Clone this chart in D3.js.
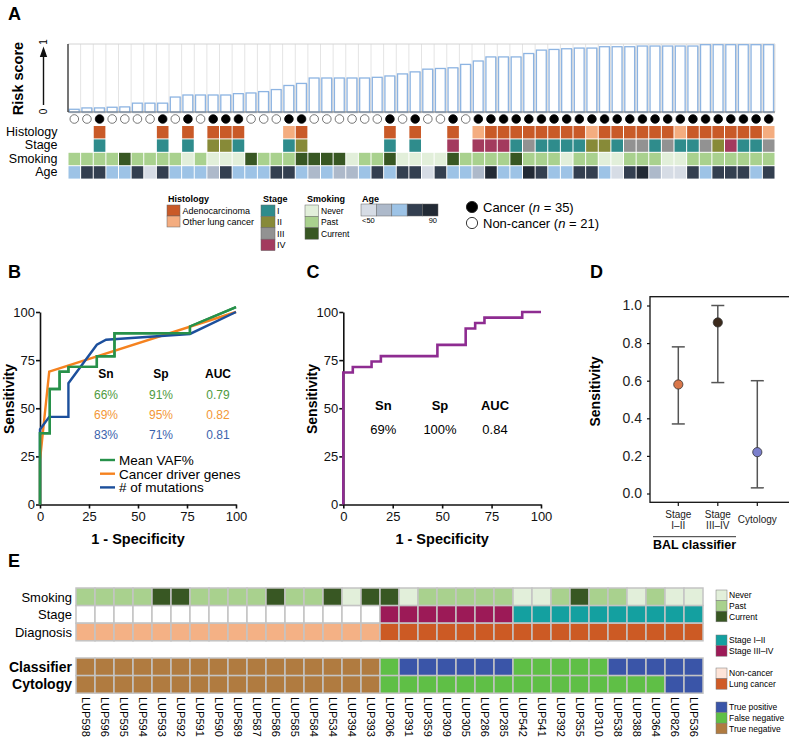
<!DOCTYPE html>
<html>
<head>
<meta charset="utf-8">
<script src="https://cdn.jsdelivr.net/npm/d3@7"></script>
<style>
  body { margin: 0; background: #fff; }
  svg { font-family: 'Liberation Sans', Arial, sans-serif; }
</style>
</head>
<body>
<script>
// ---------- panel A: risk score per subject, sorted ----------
const riskScore = [0.04, 0.06, 0.06, 0.07, 0.075, 0.13, 0.13, 0.13, 0.22, 0.25,
  0.25, 0.25, 0.25, 0.27, 0.28, 0.30, 0.33, 0.39, 0.42, 0.50,
  0.50, 0.50, 0.50, 0.50, 0.51, 0.53, 0.56, 0.59, 0.63, 0.64,
  0.65, 0.70, 0.75, 0.81, 0.81, 0.81, 0.86, 0.91, 0.92, 0.93,
  0.94, 0.94, 0.96, 0.96, 0.96, 0.97, 0.97, 0.97, 0.97, 0.97,
  0.99, 0.99, 0.99, 0.99, 0.99, 0.99]
// A = adenocarcinoma, O = other lung cancer, - = non-cancer
const histology = ['-','-','A','-','-','-','-','A','-','A',
  '-','A','A','A','-','-','-','O','A','-',
  '-','-','-','-','-','A','-','A','-','-',
  'A','-','O','A','A','A','A','A','A','A',
  'A','O','A','A','A','A','A','A','O','A',
  'A','A','A','A','A','O']
const stage = ['-','-','1','-','-','-','-','1','-','1',
  '-','2','2','1','-','-','-','1','2','-',
  '-','-','-','-','-','1','-','1','-','-',
  '4','-','4','4','4','1','3','1','1','1',
  '1','2','2','1','3','3','1','3','1','1',
  '3','2','4','1','1','3']
// N = never, P = past, C = current
const smoking = ['P','P','P','P','C','P','P','P','P','N',
  'P','N','N','N','C','P','P','P','C','C',
  'C','C','N','P','P','C','N','N','N','N',
  'C','P','P','P','P','C','P','P','P','N',
  'P','P','N','N','P','P','P','N','N','P',
  'P','P','P','P','P','P']
// age bin 1 (<50) .. 5 (90)
const ageBin = [3,4,4,3,3,4,1,4,3,3,
  3,2,4,3,3,3,4,4,3,2,
  3,2,2,3,4,3,4,4,1,4,
  3,3,2,5,3,3,5,4,3,3,
  4,4,3,1,4,5,2,1,1,4,
  3,4,4,4,3,4]

// ---------- panel B / C: ROC curves (1-specificity, sensitivity) ----------
const rocVaf = [[0,0],[0,37],[5,37],[5,60],[10,60],[10,69],[14.5,69],[14.5,71.5],[29,71.5],[29,77],[38,77],[38,89],[76.5,89],[76.5,92.5],[100,102.5]]
const rocDriver = [[0,0],[0,23],[4.7,69],[100,100]]
const rocMutations = [[0,0],[0,39],[4.7,45.5],[14.5,45.5],[14.5,63],[29,83],[33.7,85.6],[76.5,88.6],[100,100]]
const rocNames = ['Mean VAF%', 'Cancer driver genes', '# of mutations']
const snB = ['66%', '69%', '83%']
const spB = ['91%', '95%', '71%']
const aucB = ['0.79', '0.82', '0.81']

const rocClassifier = [[0,0],[0,68.6],[4.8,68.6],[4.8,71.4],[14.3,71.4],[14.3,74.3],[19,74.3],[19,77.1],[47.6,77.1],[47.6,82.9],[61.9,82.9],[61.9,91.4],[66.7,91.4],[66.7,94.3],[71.4,94.3],[71.4,97.1],[90.5,97.1],[90.5,100],[100,100]]
const statC = ['69%', '100%', '0.84']
const rocTicks = [0, 25, 50, 75, 100]

// ---------- panel D ----------
const dGroups = ['Stage I–II', 'Stage III–IV', 'Cytology']
const dSens = [0.58, 0.91, 0.22]
const dLow = [0.37, 0.59, 0.03]
const dHigh = [0.78, 1.0, 0.60]

// ---------- panel E ----------
const eSamples = ['LUP598','LUP596','LUP595','LUP594','LUP593','LUP592','LUP591','LUP590','LUP589','LUP587','LUP586','LUP585','LUP584','LUP534','LUP394','LUP393',
  'LUP306','LUP391','LUP359','LUP309','LUP305','LUP286','LUP285',
  'LUP542','LUP541','LUP392','LUP355','LUP310','LUP538','LUP388','LUP364','LUP826','LUP536']
const eSmoking = ['P','P','P','P','C','C','P','P','P','P','C','P','P','C','N','C',
  'C','N','P','P','P','P','P','N','N','P','C','P','P','N','P','N','N']
// L = stage I-II, H = stage III-IV
const eStage = ['-','-','-','-','-','-','-','-','-','-','-','-','-','-','-','-',
  'H','H','H','H','H','H','H','L','L','L','L','L','L','L','L','L','L']
// N = non-cancer, C = lung cancer
const eDiagnosis = ['N','N','N','N','N','N','N','N','N','N','N','N','N','N','N','N',
  'C','C','C','C','C','C','C','C','C','C','C','C','C','C','C','C','C']
// TP / FN / TN
const eClassifier = ['TN','TN','TN','TN','TN','TN','TN','TN','TN','TN','TN','TN','TN','TN','TN','TN',
  'FN','TP','TP','TP','TP','TP','TP','FN','FN','FN','FN','FN','TP','TP','TP','TP','TP']
const eCytology = ['TN','TN','TN','TN','TN','TN','TN','TN','TN','TN','TN','TN','TN','TN','TN','TN',
  'FN','FN','FN','FN','FN','FN','FN','FN','FN','FN','FN','FN','FN','FN','FN','TP','TP']

// ---------- colours ----------
const histColor = { A: '#c95a28', O: '#f4ad80' }
const stageColor = { 1: '#2f8c8c', 2: '#878a38', 3: '#929292', 4: '#a33a5e' }
const smokeColor = { N: '#e2efda', P: '#a9d18e', C: '#385723' }
const ageColor = ['#d6dce5', '#adb9ca', '#9dc3e6', '#333f50', '#222a35']
const eStageColor = { L: '#14a0a0', H: '#9c1a57' }
const eDiagColor = { N: '#f4b185', C: '#cc5a24' }
const outcomeColor = { TP: '#3a55a8', FN: '#5fbf46', TN: '#b07b40' }
const rocColors = ['#27914a', '#f5821f', '#1c4f9c']
const statColors = ['#4f9a3e', '#f39737', '#3c63ad']
const dColors = ['#d9774a', '#3c2a1c', '#7b7fcc']

const svg = d3.select('body').append('svg')
  .attr('width', 789)
  .attr('height', 739)

const panelLabel = (x, y, t) => svg.append('text')
  .attr('x', x).attr('y', y)
  .attr('font-size', 18).attr('font-weight', 'bold')
  .text(t)

// =======================================================================================
// A
panelLabel(8, 20, 'A')

const xA = d3.scaleBand().domain(d3.range(riskScore.length)).range([68, 775])
const yA = d3.scaleLinear().domain([0, 1]).range([112, 44])
const bw = xA.bandwidth()

const gA = svg.append('g')
gA.selectAll('line.sep')
  .data(d3.range(riskScore.length + 1))
  .join('line')
  .attr('x1', i => 68 + i * bw).attr('x2', i => 68 + i * bw)
  .attr('y1', 44).attr('y2', 112)
  .attr('stroke', '#e4e4e4')
gA.append('line').attr('x1', 68).attr('x2', 775).attr('y1', 44).attr('y2', 44).attr('stroke', '#d4d4d4')

gA.selectAll('rect.shadow')
  .data(riskScore)
  .join('rect')
  .attr('x', (d, i) => xA(i) + 2.2)
  .attr('y', d => yA(d) + 0.8)
  .attr('width', bw - 2.8)
  .attr('height', d => 112 - yA(d))
  .attr('fill', 'none')
  .attr('stroke', '#dcdcdc')
  .attr('stroke-width', 1.2)
gA.selectAll('rect.bar')
  .data(riskScore)
  .join('rect')
  .attr('x', (d, i) => xA(i) + 1.3)
  .attr('y', d => yA(d))
  .attr('width', bw - 2.8)
  .attr('height', d => 112 - yA(d))
  .attr('fill', '#fff')
  .attr('stroke', '#8db4e2')
  .attr('stroke-width', 1.3)

gA.append('line').attr('x1', 68).attr('x2', 775).attr('y1', 112).attr('y2', 112).attr('stroke', '#777').attr('stroke-width', 1.2)
gA.append('line').attr('x1', 68).attr('x2', 68).attr('y1', 44).attr('y2', 112).attr('stroke', '#222').attr('stroke-width', 1.2)

// risk score axis label + arrow
svg.append('text')
  .attr('transform', 'translate(22.5,78.5) rotate(-90)')
  .attr('text-anchor', 'middle')
  .attr('font-size', 14.5).attr('font-weight', 'bold')
  .text('Risk score')
svg.append('line').attr('x1', 43.5).attr('x2', 43.5).attr('y1', 105).attr('y2', 55).attr('stroke', '#111').attr('stroke-width', 1.4)
svg.append('path').attr('d', 'M43.5,46.5 L39.8,57 L47.2,57 Z').attr('fill', '#111')
svg.append('text').attr('transform', 'translate(47,111.5) rotate(-90)').attr('text-anchor', 'middle').attr('font-size', 10).text('0')
svg.append('text').attr('transform', 'translate(47,42) rotate(-90)').attr('text-anchor', 'middle').attr('font-size', 10).text('1')

// cancer / non-cancer circles
gA.selectAll('circle')
  .data(histology)
  .join('circle')
  .attr('cx', (d, i) => xA(i) + bw / 2)
  .attr('cy', 119)
  .attr('r', 4.3)
  .attr('fill', d => d === '-' ? '#fff' : '#000')
  .attr('stroke', d => d === '-' ? '#555' : '#000')
  .attr('stroke-width', 0.8)

const rowsA = [
  { label: 'Histology', y: 126, data: histology, color: d => histColor[d] },
  { label: 'Stage', y: 139.4, data: stage, color: d => stageColor[d] },
  { label: 'Smoking', y: 152.8, data: smoking, color: d => smokeColor[d] },
  { label: 'Age', y: 166.2, data: ageBin, color: d => ageColor[d - 1] },
]
rowsA.forEach(row => {
  gA.append('g').selectAll('rect')
    .data(row.data)
    .join('rect')
    .attr('x', (d, i) => xA(i) + 0.5)
    .attr('y', row.y)
    .attr('width', bw - 1)
    .attr('height', 12.4)
    .attr('fill', d => row.color(d) || '#fff')
  svg.append('text')
    .attr('x', 57.5).attr('y', row.y + 10)
    .attr('text-anchor', 'end')
    .attr('font-size', 12.5)
    .text(row.label)
})

// legend A
const legA = svg.append('g').attr('font-size', 9)
const legBox = (x, y, w, h, c) => legA.append('rect').attr('x', x).attr('y', y).attr('width', w).attr('height', h)
  .attr('fill', c).attr('stroke', '#666').attr('stroke-width', 0.5)
const legTitle = (x, t) => legA.append('text').attr('x', x).attr('y', 201.5).attr('font-weight', 'bold').text(t)

legTitle(168, 'Histology')
;[['A', 'Adenocarcinoma'], ['O', 'Other lung cancer']].forEach(([k, t], i) => {
  legBox(167, 205 + i * 11, 13, 11, histColor[k])
  legA.append('text').attr('x', 182.5).attr('y', 213.5 + i * 11).text(t)
})
legTitle(263, 'Stage')
;[['1', 'I'], ['2', 'II'], ['3', 'III'], ['4', 'IV']].forEach(([k, t], i) => {
  legBox(261, 205 + i * 11.4, 14, 11.4, stageColor[k])
  legA.append('text').attr('x', 277).attr('y', 213.8 + i * 11.4).text(t)
})
legTitle(307, 'Smoking')
;[['N', 'Never'], ['P', 'Past'], ['C', 'Current']].forEach(([k, t], i) => {
  legBox(305, 205 + i * 11.4, 13.5, 11.4, smokeColor[k])
  legA.append('text').attr('x', 321).attr('y', 213.8 + i * 11.4).attr('font-size', 8.5).text(t)
})
legTitle(362, 'Age')
ageColor.forEach((c, i) => legBox(361 + i * 15.4, 204, 15.4, 12, c))
legA.append('text').attr('x', 362).attr('y', 222.5).attr('font-size', 7.5).text('<50')
legA.append('text').attr('x', 437).attr('y', 222.5).attr('font-size', 7.5).attr('text-anchor', 'end').text('90')

const statusLeg = [{ fill: '#000', y: 207, n: 35, t: 'Cancer' }, { fill: '#fff', y: 223, n: 21, t: 'Non-cancer' }]
statusLeg.forEach(s => {
  svg.append('circle').attr('cx', 472).attr('cy', s.y).attr('r', 5.6)
    .attr('fill', s.fill).attr('stroke', '#222').attr('stroke-width', 0.9)
  const t = svg.append('text').attr('x', 483).attr('y', s.y + 4.6).attr('font-size', 13)
  t.append('tspan').text(`${s.t} (`)
  t.append('tspan').attr('font-style', 'italic').text('n')
  t.append('tspan').text(` = ${s.n})`)
})

// =======================================================================================
// B and C: ROC panels
const makeRocAxes = (x0, x1, labelX) => {
  const x = d3.scaleLinear().domain([0, 100]).range([x0, x1])
  const y = d3.scaleLinear().domain([0, 100]).range([504.5, 312])
  const g = svg.append('g')
  g.append('g').attr('transform', 'translate(0,504.5)')
    .call(d3.axisBottom(x).tickValues(rocTicks).tickSize(4).tickSizeOuter(0).tickPadding(3))
  g.append('g').attr('transform', `translate(${x0},0)`)
    .call(d3.axisLeft(y).tickValues(rocTicks).tickSize(4).tickSizeOuter(0).tickPadding(1))
  g.selectAll('.domain, .tick line').attr('stroke', '#111').attr('stroke-width', 1.6)
  g.selectAll('.tick text').attr('font-size', 13).attr('fill', '#111').attr('font-family', 'Liberation Sans, Arial, sans-serif')
  svg.append('text').attr('x', (x0 + x1) / 2).attr('y', 543.5).attr('text-anchor', 'middle')
    .attr('font-size', 14.5).attr('font-weight', 'bold').text('1 - Specificity')
  svg.append('text').attr('transform', `translate(${labelX},399) rotate(-90)`).attr('text-anchor', 'middle')
    .attr('font-size', 14).attr('font-weight', 'bold').text('Sensitivity')
  return { x, y }
}

panelLabel(8, 278, 'B')
const B = makeRocAxes(40, 236, 13.5)
const lineB = d3.line().x(d => B.x(d[0])).y(d => B.y(d[1]))
;[rocVaf, rocDriver, rocMutations].forEach((r, i) => {
  svg.append('path').attr('d', lineB(r)).attr('fill', 'none')
    .attr('stroke', rocColors[i]).attr('stroke-width', 2.4).attr('stroke-linejoin', 'miter')
})
// re-draw the green on top like the original
svg.append('path').attr('d', lineB(rocVaf)).attr('fill', 'none').attr('stroke', rocColors[0]).attr('stroke-width', 2.4)

const colsB = [106, 161, 218]
;['Sn', 'Sp', 'AUC'].forEach((h, j) => svg.append('text').attr('x', colsB[j]).attr('y', 378)
  .attr('text-anchor', 'middle').attr('font-size', 12).attr('font-weight', 'bold').text(h))
;[snB, spB, aucB].forEach((col, j) => col.forEach((v, i) => svg.append('text')
  .attr('x', colsB[j]).attr('y', 399 + i * 20)
  .attr('text-anchor', 'middle').attr('font-size', 12).attr('fill', statColors[i]).text(v)))

rocNames.forEach((n, i) => {
  const y = 460 + i * 13.7
  svg.append('line').attr('x1', 100).attr('x2', 115).attr('y1', y).attr('y2', y)
    .attr('stroke', rocColors[i]).attr('stroke-width', 2.4)
  svg.append('text').attr('x', 119).attr('y', y + 4.8).attr('font-size', 13.5).text(n)
})

panelLabel(306.5, 278, 'C')
const C = makeRocAxes(343.3, 541, 317)
const lineC = d3.line().x(d => C.x(d[0])).y(d => C.y(d[1]))
svg.append('path').attr('d', lineC(rocClassifier)).attr('fill', 'none')
  .attr('stroke', '#8e2c91').attr('stroke-width', 2.6)
const colsC = [383.3, 440, 495]
;['Sn', 'Sp', 'AUC'].forEach((h, j) => svg.append('text').attr('x', colsC[j]).attr('y', 410)
  .attr('text-anchor', 'middle').attr('font-size', 13).attr('font-weight', 'bold').text(h))
statC.forEach((v, j) => svg.append('text').attr('x', colsC[j]).attr('y', 434.3)
  .attr('text-anchor', 'middle').attr('font-size', 13).text(v))

// =======================================================================================
// D
panelLabel(590, 278, 'D')
const xD = d3.scalePoint().domain(dGroups).range([678.3, 757.3])
const yD = d3.scaleLinear().domain([0, 1]).range([493.5, 305.5])
svg.append('rect').attr('x', 650).attr('y', 296.7).attr('width', 150).attr('height', 205.6)
  .attr('fill', 'none').attr('stroke', '#111').attr('stroke-width', 1.3)
const axD = svg.append('g').attr('transform', 'translate(650,0)')
  .call(d3.axisLeft(yD).tickValues([0, 0.2, 0.4, 0.6, 0.8, 1]).tickFormat(d3.format('.1f')).tickSize(3).tickPadding(5))
axD.select('.domain').remove()
axD.selectAll('.tick line').attr('stroke', '#111').attr('stroke-width', 1.2)
axD.selectAll('.tick text').attr('font-size', 14).attr('fill', '#222').attr('font-family', 'Liberation Sans, Arial, sans-serif')
svg.append('text').attr('transform', 'translate(600,391.5) rotate(-90)').attr('text-anchor', 'middle')
  .attr('font-size', 14).attr('font-weight', 'bold').text('Sensitivity')

dGroups.forEach((g, i) => {
  const cx = xD(g)
  svg.append('line').attr('x1', cx).attr('x2', cx).attr('y1', 502.3).attr('y2', 506).attr('stroke', '#111').attr('stroke-width', 1.2)
  svg.append('line').attr('x1', cx).attr('x2', cx).attr('y1', yD(dLow[i])).attr('y2', yD(dHigh[i]))
    .attr('stroke', '#555').attr('stroke-width', 1.5)
  ;[dLow[i], dHigh[i]].forEach(v => svg.append('line')
    .attr('x1', cx - 6.5).attr('x2', cx + 6.5).attr('y1', yD(v)).attr('y2', yD(v))
    .attr('stroke', '#555').attr('stroke-width', 1.5))
  svg.append('circle').attr('cx', cx).attr('cy', yD(dSens[i])).attr('r', 4.6)
    .attr('fill', dColors[i]).attr('stroke', '#333').attr('stroke-width', 0.8)
  const parts = g.split(' ')
  const t = svg.append('text').attr('text-anchor', 'middle').attr('font-size', 10).attr('fill', '#222')
  if (parts.length === 2) {
    t.append('tspan').attr('x', cx).attr('y', 518).text(parts[0])
    t.append('tspan').attr('x', cx).attr('y', 529).text(parts[1])
  } else {
    t.append('tspan').attr('x', cx).attr('y', 523).text(g)
  }
})
svg.append('line').attr('x1', 653).attr('x2', 736).attr('y1', 536.7).attr('y2', 536.7).attr('stroke', '#333').attr('stroke-width', 1)
svg.append('text').attr('x', 694.5).attr('y', 549).attr('text-anchor', 'middle')
  .attr('font-size', 12.5).attr('font-weight', 'bold').text('BAL classifier')

// =======================================================================================
// E
panelLabel(8, 567, 'E')
const xE = d3.scaleBand().domain(eSamples).range([76, 703])
const rowsE = [
  { label: 'Smoking', y: 588, data: eSmoking, color: d => smokeColor[d], bold: false },
  { label: 'Stage', y: 605.6, data: eStage, color: d => eStageColor[d], bold: false },
  { label: 'Diagnosis', y: 623.2, data: eDiagnosis, color: d => eDiagColor[d], bold: false },
  { label: 'Classifier', y: 658, data: eClassifier, color: d => outcomeColor[d], bold: true },
  { label: 'Cytology', y: 675.6, data: eCytology, color: d => outcomeColor[d], bold: true },
]
rowsE.forEach(row => {
  svg.append('g').selectAll('rect')
    .data(row.data)
    .join('rect')
    .attr('x', (d, i) => xE(eSamples[i]))
    .attr('y', row.y)
    .attr('width', xE.bandwidth())
    .attr('height', 17.6)
    .attr('fill', d => row.color(d) || '#fff')
    .attr('stroke', '#c4c4c4')
    .attr('stroke-width', 1.5)
  svg.append('text')
    .attr('x', 72).attr('y', row.y + 13.5)
    .attr('text-anchor', 'end')
    .attr('font-size', row.bold ? 14 : 13)
    .attr('font-weight', row.bold ? 'bold' : 'normal')
    .text(row.label)
})
svg.append('g').selectAll('text')
  .data(eSamples)
  .join('text')
  .attr('transform', d => `translate(${xE(d) + xE.bandwidth() / 2},697) rotate(90)`)
  .attr('dy', '0.35em')
  .attr('font-size', 11)
  .text(d => d)

// legend E
const legE = [
  { y: 590, items: [['Never', smokeColor.N], ['Past', smokeColor.P], ['Current', smokeColor.C]] },
  { y: 635, items: [['Stage I–II', eStageColor.L], ['Stage III–IV', eStageColor.H]] },
  { y: 668, items: [['Non-cancer', '#fde4d8'], ['Lung cancer', '#cf5b27']] },
  { y: 702, items: [['True positive', outcomeColor.TP], ['False negative', outcomeColor.FN], ['True negative', outcomeColor.TN]] },
]
legE.forEach(grp => grp.items.forEach(([t, c], i) => {
  const y = grp.y + i * 10.6
  svg.append('rect').attr('x', 716).attr('y', y).attr('width', 11).attr('height', 10.6)
    .attr('fill', c).attr('stroke', '#777').attr('stroke-width', 0.5)
  svg.append('text').attr('x', 729).attr('y', y + 8.3).attr('font-size', 8.5).text(t)
}))
</script>
</body>
</html>
